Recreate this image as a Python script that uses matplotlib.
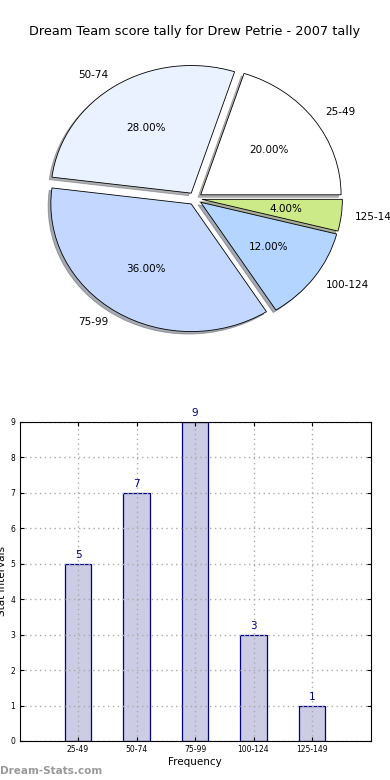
import numpy as np
import matplotlib
matplotlib.use("Agg")
import matplotlib.pyplot as plt

intervals = ["25-49", "50-74", "75-99", "100-124", "125-149"]
counts = [5, 7, 9, 3, 1]
pie_colors = ["#FFFFFF", "#EAF1FF", "#C4D8FF", "#B3D5FF", "#CCEA88"]

fig = plt.figure(figsize=(3.9, 7.8), dpi=100)
fig.subplots_adjust(left=0.05, right=0.95, bottom=0.05, top=0.95, hspace=0.2)

# pie
ax1 = fig.add_subplot(2, 1, 1)
wedges, texts, autotexts = ax1.pie(counts, labels=intervals, colors=pie_colors,
                                   explode=[0.05] * len(counts),
                                   shadow=dict(ox=-0.014, oy=-0.014, shade=0.6),
                                   autopct="%1.2f%%",
                                   wedgeprops=dict(edgecolor="black", linewidth=0.6),
                                   textprops=dict(fontsize=7.5))
ax1.set_aspect("auto")
ax1.set_xlim(-1.25, 1.25)
ax1.set_ylim(-1.25, 1.25)
ax1.set_title("Dream Team score tally for Drew Petrie - 2007 tally", fontsize=9.3, pad=3)

# bars
ax2 = fig.add_subplot(2, 1, 2)
x = np.arange(len(counts))
ax2.bar(x, counts, width=0.45, color="#CCCCE5", edgecolor="#000080", linewidth=0.9, zorder=2)
for xi, v in zip(x, counts):
    ax2.text(xi, v + 0.1, str(v), ha="center", va="bottom", color="#000080", fontsize=7.5)
ax2.set_xlim(-1, 5)
ax2.set_ylim(0, 9)
ax2.set_xticks(x)
ax2.set_xticklabels(intervals)
ax2.set_yticks(range(10))
ax2.tick_params(direction="in", top=True, right=True, labelsize=5.5, length=3, pad=3)
ax2.grid(True, linestyle=(0, (1, 2.5)), color="#AAAAAA", linewidth=1)
ax2.set_axisbelow(False)
for sp in ax2.spines.values():
    sp.set_zorder(4)
ax2.set_xlabel("Frequency", fontsize=7.5, labelpad=2)
ax2.set_ylabel("Stat Intervals", fontsize=7.5, labelpad=0)
ax2.yaxis.set_label_coords(-0.035, 0.5)

fig.text(0.0, 0.005, "Dream-Stats.com", color="#999999", fontsize=7.5,
         fontweight="bold", ha="left", va="bottom")

fig.savefig("out.png", dpi=100)
